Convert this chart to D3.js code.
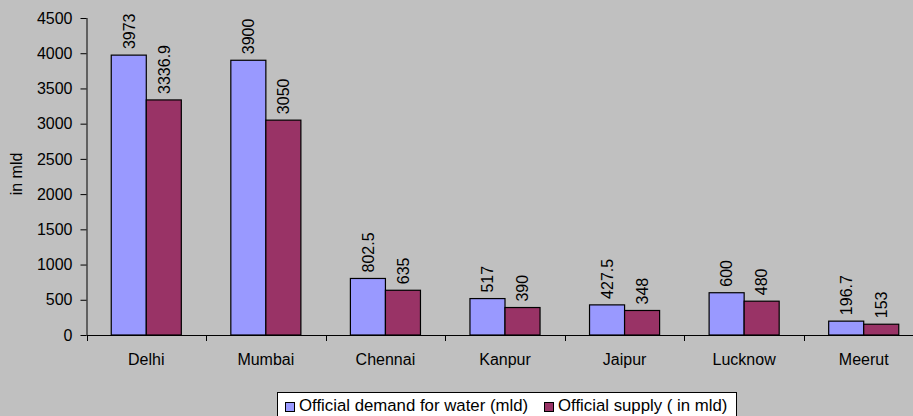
<!DOCTYPE html>
<html>
<head>
<meta charset="utf-8">
<script src="https://cdn.jsdelivr.net/npm/d3@7"></script>
<style>
  html, body { margin: 0; padding: 0; background: #C0C0C0; }
  svg { display: block; font-family: "Liberation Sans", Arial, sans-serif; }
</style>
</head>
<body>
<svg id="chart" width="913" height="416"></svg>
<script>
// City-wise official water demand and supply, in million litres per day
const cities = ["Delhi", "Mumbai", "Chennai", "Kanpur", "Jaipur", "Lucknow", "Meerut"];
const demand = [3973, 3900, 802.5, 517, 427.5, 600, 196.7];
const supply = [3336.9, 3050, 635, 390, 348, 480, 153];
const seriesNames = ["Official demand for water (mld)", "Official supply ( in mld)"];
const seriesColors = ["#9999FF", "#993366"];
const yTicks = [0, 500, 1000, 1500, 2000, 2500, 3000, 3500, 4000, 4500];

const rows = cities.map((c, i) => ({ city: c, values: [demand[i], supply[i]] }));

const svg = d3.select("#chart");
const fontSize = 16;
const legendFontSize = 16.8;

const plotLeft = 86.5, plotRight = 923.5, plotTop = 18, plotBottom = 335;

const x0 = d3.scaleBand().domain(cities).range([plotLeft, plotRight]).padding(0);
const bw = x0.bandwidth();
const x1 = d3.scaleBand().domain([0, 1]).range([bw * 0.207, bw * 0.793]).padding(0);
const y = d3.scaleLinear().domain([0, 4500]).range([plotBottom, plotTop]);

// Bars
const groups = svg.append("g").selectAll("g")
  .data(rows).join("g")
  .attr("transform", d => `translate(${x0(d.city)},0)`);

groups.selectAll("rect")
  .data(d => d.values.map((v, k) => ({ v, k })))
  .join("rect")
  .attr("x", d => x1(d.k))
  .attr("y", d => y(d.v))
  .attr("width", x1.bandwidth())
  .attr("height", d => y(0) - y(d.v))
  .attr("fill", d => seriesColors[d.k])
  .attr("stroke", "#000")
  .attr("stroke-width", 1.2);

// Value labels, rotated above each bar
groups.selectAll("text")
  .data(d => d.values.map((v, k) => ({ v, k })))
  .join("text")
  .attr("transform", d => `translate(${x1(d.k) + x1.bandwidth() / 2},${y(d.v) - 6}) rotate(-90)`)
  .attr("dy", "0.36em")
  .attr("font-size", fontSize)
  .attr("fill", "#000")
  .text(d => String(d.v));

// Y axis
const yAxis = svg.append("g")
  .attr("transform", `translate(${plotLeft},0)`)
  .call(d3.axisLeft(y).tickValues(yTicks).tickSize(6).tickPadding(8).tickFormat(d3.format("d")));
yAxis.select(".domain").attr("stroke", "#000").attr("d", `M0.5,${plotTop}V${plotBottom}`);
yAxis.selectAll(".tick line").attr("stroke", "#000");
yAxis.selectAll(".tick text")
  .attr("font-size", fontSize)
  .attr("font-family", "Liberation Sans, Arial, sans-serif")
  .attr("fill", "#000");

// Category axis: baseline with boundary ticks
const xAxis = svg.append("g");
xAxis.append("line")
  .attr("x1", plotLeft).attr("x2", plotRight)
  .attr("y1", y(0) + 0.5).attr("y2", y(0) + 0.5)
  .attr("stroke", "#000");
const boundaries = cities.map(c => x0(c)).concat([x0(cities[cities.length - 1]) + bw]);
xAxis.selectAll("line.tk")
  .data(boundaries).join("line")
  .attr("class", "tk")
  .attr("x1", d => Math.round(d) + 0.5).attr("x2", d => Math.round(d) + 0.5)
  .attr("y1", y(0)).attr("y2", y(0) + 6)
  .attr("stroke", "#000");
xAxis.selectAll("text")
  .data(cities).join("text")
  .attr("x", d => x0(d) + bw / 2)
  .attr("y", 365)
  .attr("text-anchor", "middle")
  .attr("font-size", fontSize)
  .attr("fill", "#000")
  .text(d => d);

// Y axis title
svg.append("text")
  .attr("transform", `translate(22,174) rotate(-90)`)
  .attr("text-anchor", "middle")
  .attr("font-size", fontSize)
  .attr("fill", "#000")
  .text("in mld");

// Legend
const legend = svg.append("g");
legend.append("rect")
  .attr("x", 277.5).attr("y", 392.5)
  .attr("width", 459).attr("height", 40)
  .attr("fill", "#fff").attr("stroke", "#000");
const legendX = [285, 544];
seriesNames.forEach((name, i) => {
  legend.append("rect")
    .attr("x", legendX[i] + 0.5).attr("y", 402.5)
    .attr("width", 9).attr("height", 9)
    .attr("fill", seriesColors[i]).attr("stroke", "#000");
  legend.append("text")
    .attr("x", legendX[i] + 14).attr("y", 411)
    .attr("font-size", legendFontSize)
    .attr("fill", "#000")
    .text(name);
});
</script>
</body>
</html>
